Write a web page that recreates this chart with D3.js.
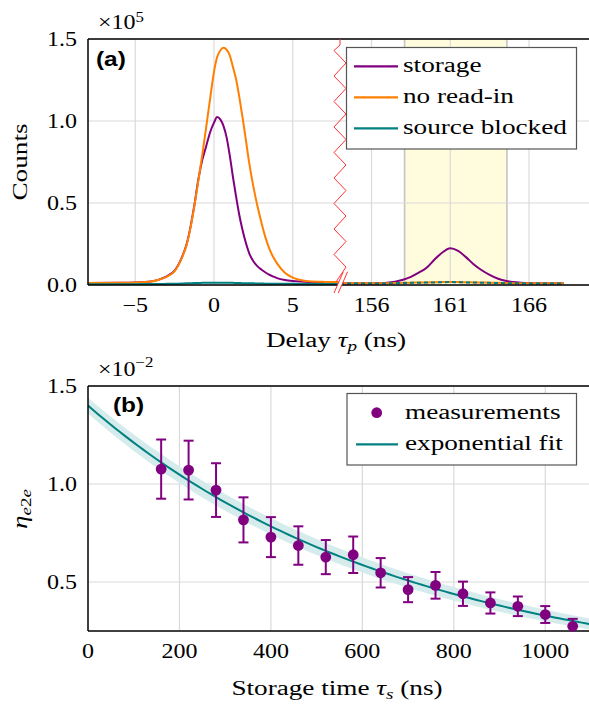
<!DOCTYPE html>
<html>
<head>
<meta charset="utf-8">
<script src="https://cdn.jsdelivr.net/npm/d3@7"></script>
<style>
  html, body { margin: 0; padding: 0; background: #fff; }
  svg { display: block; }
  text { fill: #000; }
</style>
</head>
<body>
<svg id="fig" width="589" height="706"></svg>
<script>
// ---------- Panel (a): delay histograms (counts in units of 1e5) ----------
const delayLeft = [-8, -6, -5, -4, -3.5, -3, -2.5, -2, -1.75, -1.5, -1.25, -1, -0.75, -0.5, -0.25, 0, 0.2, 0.4, 0.6, 0.8, 1.0, 1.2, 1.4, 1.6, 1.8, 2.0, 2.25, 2.5, 2.75, 3.0, 3.25, 3.5, 3.75, 4.0, 4.5, 5.0, 5.5, 6, 7, 7.9];
const storageLeft = [0.012, 0.013, 0.015, 0.022, 0.033, 0.053, 0.088, 0.178, 0.245, 0.35, 0.485, 0.64, 0.76, 0.845, 0.93, 0.99, 1.024, 1.01, 0.97, 0.9, 0.79, 0.66, 0.54, 0.43, 0.34, 0.265, 0.19, 0.145, 0.115, 0.095, 0.078, 0.063, 0.052, 0.042, 0.03, 0.024, 0.021, 0.019, 0.018, 0.017];
const noReadInLeft = [0.012, 0.013, 0.015, 0.021, 0.032, 0.051, 0.085, 0.175, 0.24, 0.345, 0.48, 0.633, 0.79, 0.96, 1.134, 1.30, 1.39, 1.43, 1.447, 1.435, 1.40, 1.33, 1.256, 1.15, 1.03, 0.90, 0.735, 0.60, 0.485, 0.385, 0.295, 0.225, 0.172, 0.132, 0.075, 0.045, 0.03, 0.023, 0.019, 0.018];
const blockedLeft = [0.005, 0.005, 0.005, 0.006, 0.006, 0.007, 0.008, 0.009, 0.010, 0.011, 0.012, 0.012, 0.013, 0.013, 0.014, 0.014, 0.014, 0.014, 0.014, 0.013, 0.013, 0.013, 0.012, 0.012, 0.011, 0.011, 0.010, 0.010, 0.009, 0.009, 0.008, 0.008, 0.008, 0.007, 0.007, 0.007, 0.006, 0.006, 0.006, 0.006];

const delayRight = [154, 155, 156, 157, 157.5, 158, 158.5, 159, 159.5, 160, 160.5, 161, 161.5, 162, 162.5, 163, 163.5, 164, 164.5, 165, 165.5, 166, 167, 168.2];
const storageRight = [0.010, 0.010, 0.011, 0.014, 0.020, 0.032, 0.05, 0.075, 0.105, 0.155, 0.198, 0.224, 0.208, 0.17, 0.125, 0.09, 0.062, 0.04, 0.026, 0.018, 0.014, 0.012, 0.011, 0.010];
const noReadInRight = [0.010, 0.010, 0.010, 0.011, 0.012, 0.013, 0.014, 0.015, 0.016, 0.017, 0.018, 0.019, 0.018, 0.017, 0.016, 0.015, 0.014, 0.013, 0.012, 0.011, 0.011, 0.010, 0.010, 0.010];
const blockedRight = [0.009, 0.009, 0.009, 0.010, 0.011, 0.012, 0.013, 0.014, 0.015, 0.016, 0.017, 0.018, 0.017, 0.016, 0.015, 0.014, 0.013, 0.012, 0.011, 0.010, 0.010, 0.009, 0.009, 0.009];

const readoutWindow = [158.1, 164.6];
const delayTicks = [-5, 0, 5, 156, 161, 166];
const countTicks = [0, 0.5, 1.0, 1.5];
const seriesNamesA = ["storage", "no read-in", "source blocked"];

// ---------- Panel (b): end-to-end efficiency (units of 1e-2) ----------
const storageTimes = [160, 220, 280, 340, 400, 460, 520, 580, 640, 700, 760, 820, 880, 940, 1000, 1060];
const efficiency = [1.076, 1.071, 0.969, 0.817, 0.729, 0.686, 0.627, 0.639, 0.547, 0.461, 0.483, 0.44, 0.393, 0.376, 0.334, 0.274];
const efficiencyErr = [0.151, 0.15, 0.137, 0.115, 0.102, 0.098, 0.087, 0.093, 0.075, 0.064, 0.068, 0.062, 0.054, 0.05, 0.043, 0.038];
// exponential fit  eta(t) = A * exp(-t / tau), with its confidence band
const fitAmplitude = 1.40, fitTau = 690;
const bandUpper = { amplitude: 1.44, tau: 720 };
const bandLower = { amplitude: 1.36, tau: 660 };
const timeTicks = [0, 200, 400, 600, 800, 1000];
const etaTicks = [0.5, 1.0, 1.5];
const seriesNamesB = ["measurements", "exponential fit"];

// ---------- styling ----------
const C = { purple: "#800080", orange: "#ff7f00", teal: "#008080", grid: "#dadada",
            band: "#fefcdc", bandEdge: "#c4c4c4", fitBand: "#d6ecec", zig: "#ff3333" };
const WORD_SX = 1.36, NUM_SX = 1.2;
const SERIF = "'Liberation Serif', 'DejaVu Serif', serif";
const SANS = "'Liberation Sans', Arial, sans-serif";

const svg = d3.select("#fig");

function label(g, x, y, str, o = {}) {
  const t = g.append("text")
    .attr("transform", `translate(${x},${y})` + (o.rotate ? ` rotate(${o.rotate})` : "") + ` scale(${o.sx || WORD_SX},1)`)
    .attr("text-anchor", o.anchor || "start")
    .style("font-family", o.family || SERIF)
    .style("font-size", (o.size || 20) + "px");
  if (o.weight) t.style("font-weight", o.weight);
  if (str !== null) t.text(str);
  return t;
}

// ===================== Panel (a) =====================
const A = { left: 88, right: 592, top: 39, bottom: 285, brk: 340 };
const xA = d3.scaleLinear().domain([-8, 8, 154, 170]).range([A.left, A.brk, A.brk, A.right]);
const yA = d3.scaleLinear().domain([0, 1.5]).range([A.bottom, A.top]);

const gA = svg.append("g");
svg.append("defs").append("clipPath").attr("id", "clipA")
  .append("rect").attr("x", A.left).attr("y", A.top).attr("width", A.right - A.left).attr("height", A.bottom - A.top);

// read-out window
gA.append("rect")
  .attr("x", xA(readoutWindow[0])).attr("y", A.top)
  .attr("width", xA(readoutWindow[1]) - xA(readoutWindow[0])).attr("height", A.bottom - A.top)
  .attr("fill", C.band);
readoutWindow.forEach(v => gA.append("line")
  .attr("x1", xA(v)).attr("x2", xA(v)).attr("y1", A.top).attr("y2", A.bottom)
  .attr("stroke", C.bandEdge).attr("stroke-width", 1.6));

// grid
gA.append("g").selectAll("line").data(delayTicks).join("line")
  .attr("x1", d => xA(d)).attr("x2", d => xA(d)).attr("y1", A.top).attr("y2", A.bottom)
  .attr("stroke", C.grid).attr("stroke-width", 1.2);
gA.append("g").selectAll("line").data(countTicks).join("line")
  .attr("x1", A.left).attr("x2", A.right).attr("y1", d => yA(d)).attr("y2", d => yA(d))
  .attr("stroke", C.grid).attr("stroke-width", 1.2);

// curves
const lineA = d3.line().x(d => xA(d[0])).y(d => yA(d[1])).curve(d3.curveMonotoneX);
const curvesA = gA.append("g").attr("clip-path", "url(#clipA)");
function drawCurve(t, v, color, dash) {
  curvesA.append("path").datum(d3.zip(t, v)).attr("d", lineA)
    .attr("fill", "none").attr("stroke", color).attr("stroke-width", 2)
    .attr("stroke-linejoin", "round").attr("stroke-dasharray", dash || null);
}
drawCurve(delayLeft, storageLeft, C.purple);
drawCurve(delayLeft, noReadInLeft, C.orange);
drawCurve(delayLeft, blockedLeft, C.teal);
drawCurve(delayRight, storageRight, C.purple);
drawCurve(delayRight, noReadInRight, C.orange);
drawCurve(delayRight, blockedRight, C.teal, "4 3");

// axes frame
const axA = gA.append("g").attr("stroke", "#000").attr("stroke-width", 1.5).attr("fill", "none");
axA.append("line").attr("x1", A.left).attr("x2", A.left).attr("y1", A.top).attr("y2", A.bottom);
axA.append("line").attr("x1", A.left).attr("x2", A.right).attr("y1", A.top).attr("y2", A.top);
axA.append("line").attr("x1", A.left).attr("x2", A.right).attr("y1", A.bottom).attr("y2", A.bottom);

// axis break: zigzag through the plot and a double slash on the baseline
const zig = [[A.brk, A.top], [A.brk, 45]];
for (let k = 0; k < 9; k++) { zig.push([A.brk - 6, 50.5 + 25.5 * k]); zig.push([A.brk + 6, 63 + 25.5 * k]); }
zig.push([A.brk - 4, 282]);
gA.append("path").attr("d", d3.line()(zig)).attr("fill", "none").attr("stroke", C.zig).attr("stroke-width", 1);
gA.append("path").attr("d", "M334,293 L343.3,271.7 L347.6,271.7 L338.3,293 Z").attr("fill", "#fff");
gA.append("path").attr("d", "M334,293 L343.3,271.7 M338.3,293 L347.6,271.7")
  .attr("stroke", C.zig).attr("stroke-width", 1).attr("fill", "none");

// tick labels
delayTicks.forEach(d => label(gA, xA(d), 311.5, d < 0 ? "\u2212" + Math.abs(d) : String(d), { anchor: "middle", sx: NUM_SX }));
countTicks.forEach(d => label(gA, 77, yA(d) + 6.5, d.toFixed(1), { anchor: "end", sx: NUM_SX }));
const expA = label(gA, 98, 29.3, null, { sx: NUM_SX });
expA.append("tspan").text("\u00d710");
expA.append("tspan").attr("dy", -7.5).style("font-size", "14px").text("5");

// axis titles
const xtA = label(gA, 336, 346.7, null, { anchor: "middle" });
xtA.append("tspan").text("Delay ");
xtA.append("tspan").style("font-style", "italic").text("\u03c4");
xtA.append("tspan").attr("dy", 4).style("font-size", "14px").style("font-style", "italic").text("p");
xtA.append("tspan").attr("dy", -4).text(" (ns)");
label(gA, 27, 162, "Counts", { anchor: "middle", rotate: -90 });
label(gA, 96, 65.5, "(a)", { family: SANS, weight: "bold", sx: 1.22 });

// legend
const legA = gA.append("g");
legA.append("rect").attr("x", 346.5).attr("y", 47.5).attr("width", 230).attr("height", 101.5)
  .attr("fill", "#fff").attr("stroke", "#555").attr("stroke-width", 1.2);
const legColorsA = [C.purple, C.orange, C.teal];
seriesNamesA.forEach((name, i) => {
  const y = 66.3 + i * 31;
  legA.append("line").attr("x1", 354).attr("x2", 398).attr("y1", y).attr("y2", y)
    .attr("stroke", legColorsA[i]).attr("stroke-width", 2.2);
  label(legA, 403, y + 6, name);
});

// ===================== Panel (b) =====================
const B = { left: 88, right: 591, top: 386, bottom: 631 };
const xB = d3.scaleLinear().domain([0, 1100]).range([B.left, B.right]);
const yB = d3.scaleLinear().domain([0.25, 1.5]).range([B.bottom, B.top]);
const gB = svg.append("g");
svg.select("defs").append("clipPath").attr("id", "clipB")
  .append("rect").attr("x", B.left).attr("y", B.top).attr("width", B.right - B.left).attr("height", B.bottom - B.top);

// grid
gB.append("g").selectAll("line").data(timeTicks.slice(1)).join("line")
  .attr("x1", d => xB(d)).attr("x2", d => xB(d)).attr("y1", B.top).attr("y2", B.bottom)
  .attr("stroke", C.grid).attr("stroke-width", 1.2);
gB.append("g").selectAll("line").data(etaTicks).join("line")
  .attr("x1", B.left).attr("x2", B.right).attr("y1", d => yB(d)).attr("y2", d => yB(d))
  .attr("stroke", C.grid).attr("stroke-width", 1.2);

// fit band and fit curve
const fitT = d3.range(0, 1101, 10);
const fitClip = gB.append("g").attr("clip-path", "url(#clipB)");
fitClip.append("path").datum(fitT)
  .attr("d", d3.area().x(t => xB(t))
    .y0(t => yB(bandLower.amplitude * Math.exp(-t / bandLower.tau)))
    .y1(t => yB(bandUpper.amplitude * Math.exp(-t / bandUpper.tau))))
  .attr("fill", C.fitBand);
fitClip.append("path").datum(fitT)
  .attr("d", d3.line().x(t => xB(t)).y(t => yB(fitAmplitude * Math.exp(-t / fitTau))))
  .attr("fill", "none").attr("stroke", C.teal).attr("stroke-width", 2);

// error bars
const pts = d3.zip(storageTimes, efficiency, efficiencyErr);
const eb = fitClip.append("g").attr("stroke", C.purple).attr("stroke-width", 2).attr("fill", "none");
pts.forEach(([t, v, e]) => {
  const x = xB(t), y1 = yB(v + e), y0 = yB(v - e);
  eb.append("line").attr("x1", x).attr("x2", x).attr("y1", y1).attr("y2", y0);
  eb.append("line").attr("x1", x - 5).attr("x2", x + 5).attr("y1", y1).attr("y2", y1);
  eb.append("line").attr("x1", x - 5).attr("x2", x + 5).attr("y1", y0).attr("y2", y0);
});

// axes frame
const axB = gB.append("g").attr("stroke", "#000").attr("stroke-width", 1.5);
axB.append("line").attr("x1", B.left).attr("x2", B.left).attr("y1", B.top).attr("y2", B.bottom);
axB.append("line").attr("x1", B.left).attr("x2", B.right).attr("y1", B.top).attr("y2", B.top);
axB.append("line").attr("x1", B.left).attr("x2", B.right).attr("y1", B.bottom).attr("y2", B.bottom);

// markers
gB.append("g").selectAll("circle").data(pts).join("circle")
  .attr("cx", d => xB(d[0])).attr("cy", d => yB(d[1])).attr("r", 5.4).attr("fill", C.purple);

// tick labels
timeTicks.forEach(d => label(gB, xB(d), 658.3, String(d), { anchor: "middle", sx: NUM_SX }));
etaTicks.forEach(d => label(gB, 77, yB(d) + 6.5, d.toFixed(1), { anchor: "end", sx: NUM_SX }));
const expB = label(gB, 98, 375.7, null, { sx: NUM_SX });
expB.append("tspan").text("\u00d710");
expB.append("tspan").attr("dy", -9).style("font-size", "14px").text("\u22122");

// axis titles
const xtB = label(gB, 337, 695, null, { anchor: "middle" });
xtB.append("tspan").text("Storage time ");
xtB.append("tspan").style("font-style", "italic").text("\u03c4");
xtB.append("tspan").attr("dy", 4).style("font-size", "14px").style("font-style", "italic").text("s");
xtB.append("tspan").attr("dy", -4).text(" (ns)");
const ytB = label(gB, 27, 509, null, { anchor: "middle", rotate: -90 });
ytB.append("tspan").style("font-style", "italic").text("\u03b7");
ytB.append("tspan").attr("dy", 4).style("font-size", "14px").style("font-style", "italic").text("e");
ytB.append("tspan").style("font-size", "14px").text("2");
ytB.append("tspan").style("font-size", "14px").style("font-style", "italic").text("e");
label(gB, 113, 412, "(b)", { family: SANS, weight: "bold", sx: 1.22 });

// legend
const legB = gB.append("g");
legB.append("rect").attr("x", 347).attr("y", 393.5).attr("width", 229.5).attr("height", 71.5)
  .attr("fill", "#fff").attr("stroke", "#555").attr("stroke-width", 1.2);
legB.append("circle").attr("cx", 376.7).attr("cy", 412.7).attr("r", 5.4).attr("fill", C.purple);
legB.append("line").attr("x1", 356).attr("x2", 398).attr("y1", 444.3).attr("y2", 444.3)
  .attr("stroke", C.teal).attr("stroke-width", 2.2);
label(legB, 405, 418.7, seriesNamesB[0]);
label(legB, 405, 450.3, seriesNamesB[1]);
</script>
</body>
</html>
